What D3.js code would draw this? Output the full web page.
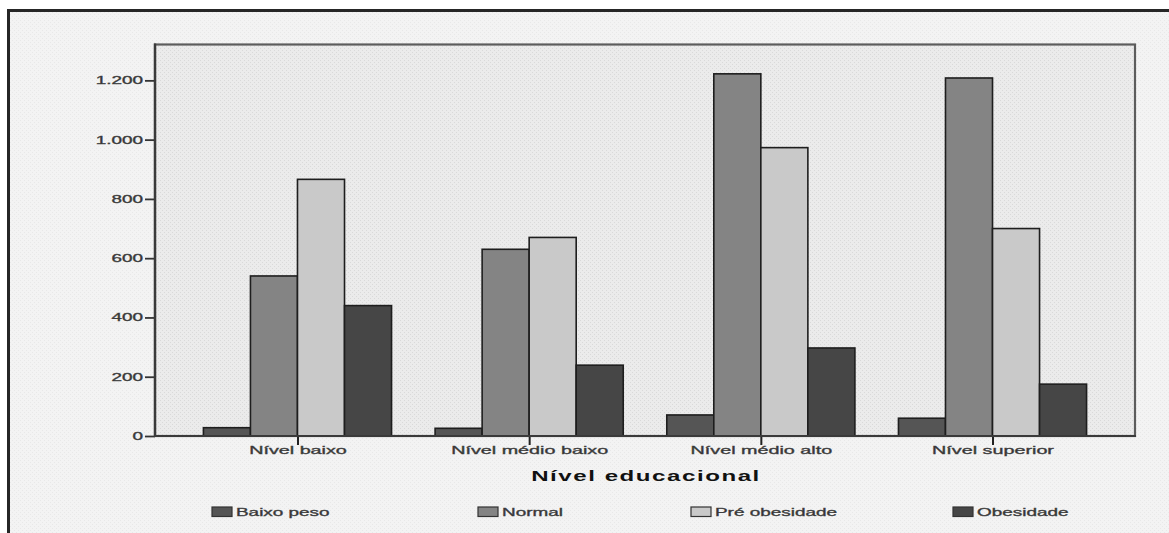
<!DOCTYPE html>
<html><head><meta charset="utf-8">
<script src="https://cdn.jsdelivr.net/npm/d3@7"></script>
<style>body{margin:0;background:#fff}svg{display:block}text{font-family:"Liberation Sans",Arial,sans-serif}</style>
</head><body><svg id="c" width="1169" height="533"></svg>
<script>
// ---- data ----
const categories = ["Nível baixo", "Nível médio baixo", "Nível médio alto", "Nível superior"];
const seriesNames = ["Baixo peso", "Normal", "Pré obesidade", "Obesidade"];
const baixoPeso = [28, 26, 71, 60];
const normal = [540, 630, 1222, 1208];
const preObesidade = [866, 670, 973, 700];
const obesidade = [440, 239, 297, 175];
const yTickValues = [0, 200, 400, 600, 800, 1000, 1200];
const yTickLabels = ["0", "200", "400", "600", "800", "1.000", "1.200"];
const axisTitle = "Nível educacional";
const yAxisMax = 1321;

// ---- layout / style ----
const seriesValues = [baixoPeso, normal, preObesidade, obesidade];
const colors = ["#555555", "#848484", "#c9c9c9", "#464646"];
const SX = 1.72; // horizontal stretch of the original text
const P = {left: 155, top: 44.5, right: 1135, bottom: 436};
const legendX = [212, 478, 691, 953];

const svg = d3.select("#c");
const defs = svg.append("defs");
function dots(id, base, dot) {
  const p = defs.append("pattern").attr("id", id).attr("width", 4).attr("height", 4)
    .attr("patternUnits", "userSpaceOnUse");
  p.append("rect").attr("width", 4).attr("height", 4).attr("fill", base);
  p.append("rect").attr("x", 0).attr("y", 0).attr("width", 1).attr("height", 1).attr("fill", dot);
  p.append("rect").attr("x", 2).attr("y", 2).attr("width", 1).attr("height", 1).attr("fill", dot);
}
dots("outerDots", "#f3f3f3", "#e8e8e8");
dots("plotDots", "#ebebeb", "#d9d9d9");

// outer frame
svg.append("rect").attr("x", 9).attr("y", 11.5).attr("width", 1160).attr("height", 522)
  .attr("fill", "url(#outerDots)");
svg.append("path").attr("d", "M8.5,533V10.5H1169").attr("fill", "none")
  .attr("stroke", "#262626").attr("stroke-width", 3);

// plot area
svg.append("rect").attr("x", P.left).attr("y", P.top)
  .attr("width", P.right - P.left).attr("height", P.bottom - P.top)
  .attr("fill", "url(#plotDots)").attr("stroke", "#5c5c5c").attr("stroke-width", 2.2);

const x = d3.scalePoint().domain(categories).range([P.left, P.right]).padding(0.615);
const groupW = x.step() * 0.812;
const x1 = d3.scaleBand().domain(seriesNames).range([-groupW / 2, groupW / 2]).padding(0);
const y = d3.scaleLinear().domain([0, yAxisMax]).range([P.bottom, P.top]);

// bars
const groups = svg.append("g").selectAll("g").data(categories).join("g")
  .attr("transform", d => `translate(${x(d)},0)`);
groups.selectAll("rect")
  .data((c, ci) => seriesNames.map((s, si) => ({s, si, v: seriesValues[si][ci]})))
  .join("rect")
  .attr("x", d => x1(d.s))
  .attr("y", d => y(d.v))
  .attr("width", x1.bandwidth())
  .attr("height", d => y(0) - y(d.v))
  .attr("fill", d => colors[d.si])
  .attr("stroke", "#1e1e1e").attr("stroke-width", 1.6);

// y axis
const yAxis = svg.append("g").attr("transform", `translate(${P.left},0)`)
  .call(d3.axisLeft(y).tickValues(yTickValues).tickFormat((d, i) => yTickLabels[i])
    .tickSize(10).tickPadding(2));
yAxis.select(".domain").remove();
yAxis.selectAll(".tick line").attr("stroke", "#333").attr("stroke-width", 1.8);
yAxis.selectAll(".tick text")
  .attr("font-size", 11).attr("fill", "#333").attr("stroke", "#444").attr("stroke-width", 0.35)
  .attr("x", -12 / SX).attr("transform", `scale(${SX},1)`)
  .attr("font-family", "Liberation Sans, Arial, sans-serif");
svg.append("line").attr("x1", P.left).attr("x2", P.left).attr("y1", P.top - 1).attr("y2", P.bottom + 1)
  .attr("stroke", "#3a3a3a").attr("stroke-width", 2.4);

// x axis
const xAxis = svg.append("g").attr("transform", `translate(0,${P.bottom})`)
  .call(d3.axisBottom(x).tickSize(9).tickPadding(1));
xAxis.select(".domain").remove();
xAxis.selectAll(".tick line").attr("stroke", "#222").attr("stroke-width", 2);
xAxis.selectAll(".tick text")
  .attr("font-size", 11.5).attr("fill", "#333").attr("stroke", "#444").attr("stroke-width", 0.35)
  .attr("y", 18).attr("dy", 0)
  .attr("transform", `scale(${SX},1)`)
  .attr("font-family", "Liberation Sans, Arial, sans-serif");
svg.append("line").attr("x1", P.left - 1).attr("x2", P.right + 1).attr("y1", P.bottom).attr("y2", P.bottom)
  .attr("stroke", "#3a3a3a").attr("stroke-width", 2.2);

// axis title
svg.append("text")
  .attr("transform", `translate(${(P.left + P.right) / 2 + 1},480.5) scale(${SX},1)`)
  .attr("text-anchor", "middle").attr("font-size", 14).attr("font-weight", "bold")
  .attr("letter-spacing", 0.9).attr("fill", "#111").text(axisTitle);

// legend
const leg = svg.append("g").selectAll("g").data(seriesNames).join("g")
  .attr("transform", (d, i) => `translate(${legendX[i]},0)`);
leg.append("rect").attr("x", 0).attr("y", 507).attr("width", 20).attr("height", 9.5)
  .attr("fill", (d, i) => colors[i]).attr("stroke", "#333").attr("stroke-width", 1.2);
leg.append("text").attr("transform", `translate(24,515.5) scale(${SX},1)`)
  .attr("font-size", 11).attr("fill", "#333").attr("stroke", "#444").attr("stroke-width", 0.35)
  .text(d => d);
</script>
</body></html>
